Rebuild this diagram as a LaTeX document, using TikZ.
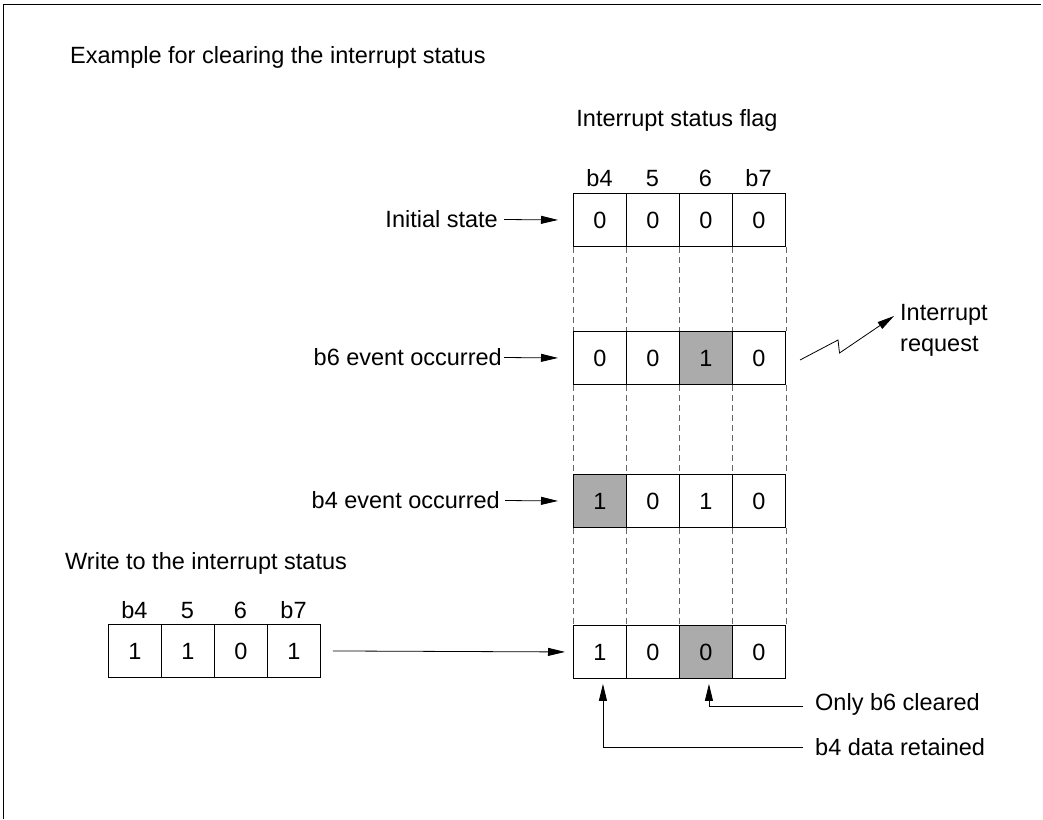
\documentclass[tikz,border=0pt]{standalone}
\usepackage{fontspec}
\setmainfont{Liberation Sans}
\usetikzlibrary{arrows.meta}
\begin{document}
\begin{tikzpicture}[x=1pt,y=-1pt,
  every node/.style={font=\fontsize{23.5}{28}\selectfont, inner sep=0pt},
  digit/.style={text height=17pt, text depth=0pt},
  cell/.style={draw, digit, line width=0.9pt, minimum width=53pt, minimum height=53pt, anchor=north west},
  hot/.style={fill=black!33},
  arr/.style={line width=0.8pt, -{Triangle[length=17pt,width=8pt]}},
  guide/.style={line width=0.7pt, black!60, dash pattern=on 6pt off 4pt},
  frame/.style={line width=1pt}]
\useasboundingbox (0,0) rectangle (1043,819);
% frame
\draw[frame] (3,819) -- (3,4.5) -- (1041,4.5);
% titles
\node[anchor=west] (title) at (70,57) {Example for clearing the interrupt status};
\node (flag) at (677,120) {Interrupt status flag};
% top headers
\node[digit] (h1) at (599.5,178) {b4};
\node[digit] (h2) at (652.5,178) {5};
\node[digit] (h3) at (705.5,178) {6};
\node[digit] (h4) at (758.5,178) {b7};
% rows
\foreach \r/\y/\a/\b/\c/\d/\fa/\fc in {1/193/0/0/0/0//,2/331/0/0/1/0//hot,3/474/1/0/1/0/hot/,4/625/1/0/0/0//hot}{
  \node[cell,\fa] (r\r c1) at (573,\y) {\a};
  \node[cell] (r\r c2) at (626,\y) {\b};
  \node[cell,\fc] (r\r c3) at (679,\y) {\c};
  \node[cell] (r\r c4) at (732,\y) {\d};
}
% dashed guides
\foreach \c in {1,2,3,4}{
  \draw[guide] (r1c\c.south west) -- (r2c\c.north west);
  \draw[guide] (r2c\c.south west) -- (r3c\c.north west);
  \draw[guide] (r3c\c.south west) -- (r4c\c.north west);
}
\draw[guide] (r1c4.south east) -- (r2c4.north east);
\draw[guide] (r2c4.south east) -- (r3c4.north east);
\draw[guide] (r3c4.south east) -- (r4c4.north east);
% row labels
\node[anchor=east] (l1) at (498,219.5) {Initial state};
\node[anchor=east] (l2) at (502,357.5) {b6 event occurred};
\node[anchor=east] (l3) at (500,500.5) {b4 event occurred};
\draw[arr] ([xshift=6pt]l1.east) -- ([xshift=-15pt]r1c1.west);
\draw[arr] ([xshift=2pt]l2.east) -- ([xshift=-15pt]r2c1.west);
\draw[arr] ([xshift=5pt]l3.east) -- ([xshift=-15pt]r3c1.west);
% interrupt request
\node[anchor=west, align=left] (irq) at (900,330) {Interrupt\\[3pt]request};
\coordinate (z0) at (800,360);
\coordinate (z1) at (838,340);
\coordinate (z2) at (839.5,353);
\coordinate (z3) at (894,316);
\draw[arr] (z0) -- (z1) -- (z2) -- (z3);
% write register
\node[anchor=west] (wr) at (65,563) {Write to the interrupt status};
\node[digit] (g1) at (134.5,610) {b4};
\node[digit] (g2) at (187.5,610) {5};
\node[digit] (g3) at (240.5,610) {6};
\node[digit] (g4) at (293.5,610) {b7};
\node[cell] (w1) at (108,624) {1};
\node[cell] (w2) at (161,624) {1};
\node[cell] (w3) at (214,624) {0};
\node[cell] (w4) at (267,624) {1};
\draw[arr] ([xshift=12pt]w4.east) -- ([xshift=-8pt]r4c1.west);
% bottom notes
\node[anchor=west] (n1) at (815,704) {Only b6 cleared};
\node[anchor=west] (n2) at (815,747) {b4 data retained};
\draw[arr] ([xshift=-12pt,yshift=-2pt]n1.west) -| ([xshift=3pt,yshift=-5pt]r4c3.south);
\draw[arr] ([xshift=-12pt]n2.west) -| ([xshift=3pt,yshift=-5pt]r4c1.south);
\end{tikzpicture}
\end{document}
